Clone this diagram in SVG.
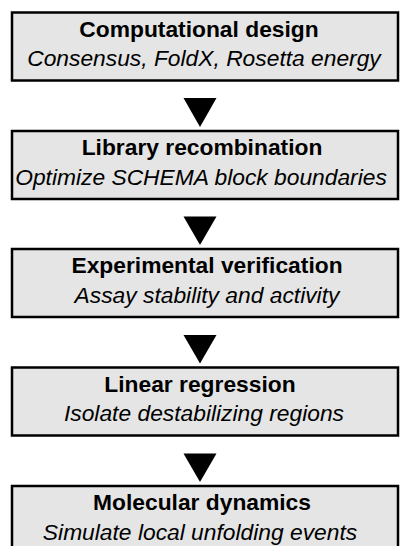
<svg xmlns="http://www.w3.org/2000/svg" width="400" height="546" viewBox="0 0 400 546">
<style>
.box{fill:#e5e5e5;stroke:#000;stroke-width:2.5}
.t{font-family:"Liberation Sans",Arial,sans-serif;font-size:22.8px;font-weight:bold;text-anchor:middle;fill:#000}
.s{font-family:"Liberation Sans",Arial,sans-serif;font-size:22.8px;font-style:italic;text-anchor:middle;fill:#000}
.arr{fill:#000}
</style>
<rect width="400" height="546" fill="#fff"/>
<g id="connectors">
<polygon class="arr" points="183.5,98 216.5,98 200,127"/>
<polygon class="arr" points="183.5,216.5 216.5,216.5 200,245"/>
<polygon class="arr" points="183.5,335 216.5,335 200,363.5"/>
<polygon class="arr" points="183.5,453.5 216.5,453.5 200,482"/>
</g>
<g id="node1">
<rect class="box" x="12" y="12.5" width="386" height="68"/>
<text class="t" x="199" y="36.5">Computational design</text>
<text class="s" x="204" y="66">Consensus, FoldX, Rosetta energy</text>
</g>
<g id="node2">
<rect class="box" x="12" y="131" width="386" height="68"/>
<text class="t" x="202" y="155">Library recombination</text>
<text class="s" x="201" y="184.5">Optimize SCHEMA block boundaries</text>
</g>
<g id="node3">
<rect class="box" x="12" y="249" width="386" height="68"/>
<text class="t" x="207" y="273">Experimental verification</text>
<text class="s" x="207" y="302.5">Assay stability and activity</text>
</g>
<g id="node4">
<rect class="box" x="12" y="367.5" width="386" height="68"/>
<text class="t" x="200" y="391.5">Linear regression</text>
<text class="s" x="204" y="421">Isolate destabilizing regions</text>
</g>
<g id="node5">
<rect class="box" x="12" y="486" width="386" height="68"/>
<text class="t" x="202" y="510">Molecular dynamics</text>
<text class="s" x="200" y="539.5">Simulate local unfolding events</text>
</g>
</svg>
